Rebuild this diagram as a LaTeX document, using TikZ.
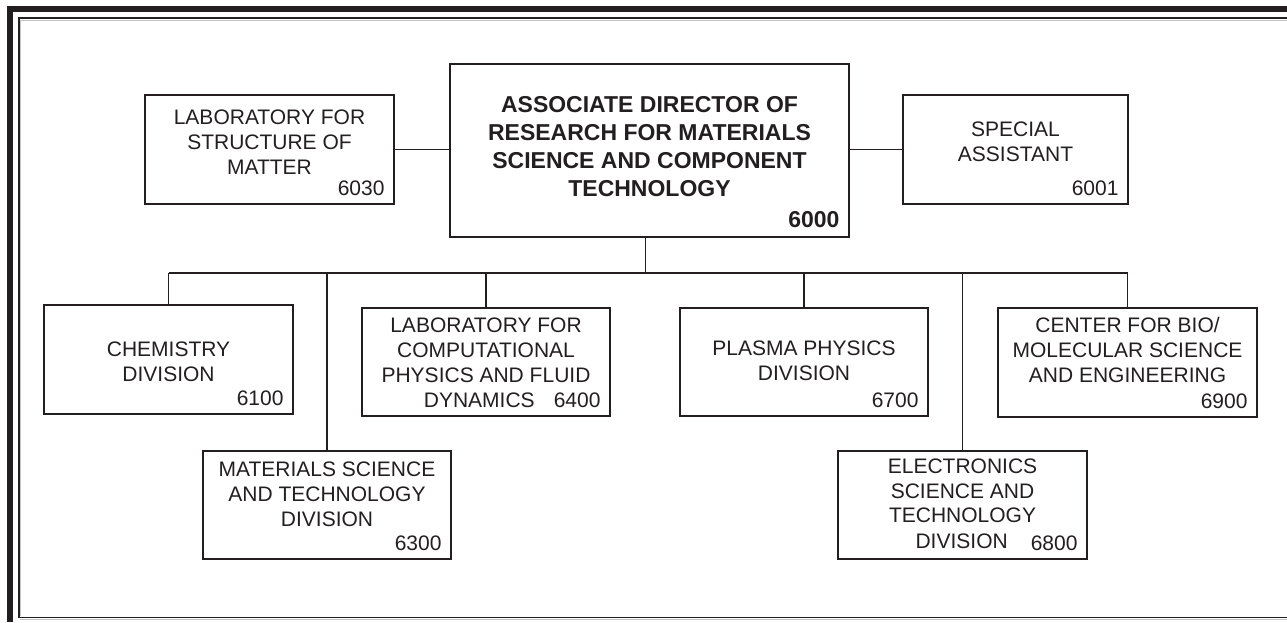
\documentclass[tikz,border=0pt]{standalone}
\usepackage{fontspec}
\setmainfont{Liberation Sans}
\definecolor{ink}{HTML}{231F20}
\begin{document}
\begin{tikzpicture}[x=0.75pt,y=-0.75pt,
  orgbox/.style={draw=ink, line width=1.1pt, inner sep=0pt, fill=white},
  txt/.style={align=center, inner sep=0pt, text=ink, font=\fontsize{15.75}{18.6}\selectfont},
  boldtxt/.style={align=center, inner sep=0pt, text=ink, font=\fontsize{17.25}{21}\selectfont\bfseries},
  num/.style={anchor=south east, inner sep=0pt, text=ink, font=\fontsize{15.75}{18.6}\selectfont, xshift=-7.5pt, yshift=6.75pt},
  bnum/.style={anchor=south east, inner sep=0pt, text=ink, font=\fontsize{17.25}{21}\selectfont\bfseries, xshift=-7.5pt, yshift=7.5pt},
  link/.style={draw=ink, line width=1.1pt}]
\useasboundingbox (0,0) rectangle (1287,622);
% frame
\draw[ink, line width=4.5pt, line join=miter] (10,622) -- (10,9) -- (1287,9);
\draw[gray!45, line width=0.6pt] (1287,20.2) -- (20.7,20.2) -- (20.7,615.5);
\draw[gray!45, line width=0.6pt] (20,619) -- (1287,619);
\draw[ink, line width=1.2pt] (1287,18) -- (19,18) -- (19,617.3) -- (1287,617.3);

% boxes
\node[orgbox, minimum width=186.75pt, minimum height=81.75pt] (lsm) at (269.5,149.5) {};
\node[orgbox, minimum width=299.25pt, minimum height=129.75pt] (main) at (649.5,150.5) {};
\node[orgbox, minimum width=168.75pt, minimum height=81.75pt] (spec) at (1015.5,149.5) {};
\node[orgbox, minimum width=186.75pt, minimum height=81.75pt] (chem) at (168.5,359.5) {};
\node[orgbox, minimum width=186pt, minimum height=81pt] (mst) at (327,505) {};
\node[orgbox, minimum width=186pt, minimum height=81pt] (lcp) at (486,362) {};
\node[orgbox, minimum width=186pt, minimum height=81pt] (plasma) at (804,362) {};
\node[orgbox, minimum width=186.75pt, minimum height=81pt] (elec) at (962.5,505) {};
\node[orgbox, minimum width=194.25pt, minimum height=81.75pt] (center) at (1127.5,362.5) {};

% texts
\node[txt] (lsmt) at (269.5,142) {LABORATORY FOR\\STRUCTURE OF\\MATTER};
\node[num] (lsmn) at (lsm.south east) {6030};
\node[boldtxt] (maint) at (649.5,146.75) {ASSOCIATE DIRECTOR OF\\RESEARCH FOR MATERIALS\\SCIENCE AND COMPONENT\\TECHNOLOGY};
\node[bnum] (mainn) at (main.south east) {6000};
\node[txt] (spect) at (1015.5,142) {SPECIAL\\ASSISTANT};
\node[num] (specn) at (spec.south east) {6001};
\node[txt] (chemt) at (168.5,362) {CHEMISTRY\\DIVISION};
\node[num] (chemn) at (chem.south east) {6100};
\node[txt] (mstt) at (327,494) {MATERIALS SCIENCE\\AND TECHNOLOGY\\DIVISION};
\node[num] (mstn) at (mst.south east) {6300};
\node[txt] (lcpt) at (486,350) {LABORATORY FOR\\COMPUTATIONAL\\PHYSICS AND FLUID};
\node[txt, anchor=base east] (lcpt2) at (535,407) {DYNAMICS};
\node[num] (lcpn) at (lcp.south east) {6400};
\node[txt] (plasmat) at (804,361) {PLASMA PHYSICS\\DIVISION};
\node[num] (plasman) at (plasma.south east) {6700};
\node[txt] (elect) at (962.5,490.8) {ELECTRONICS\\SCIENCE AND\\TECHNOLOGY};
\node[txt, anchor=base east] (elect2) at (1008,548.5) {DIVISION};
\node[num] (elecn) at (elec.south east) {6800};
\node[txt] (centert) at (1127.5,350) {CENTER FOR BIO/\\MOLECULAR SCIENCE\\AND ENGINEERING};
\node[num] (centern) at (center.south east) {6900};

% connectors
\coordinate (bus) at (0,273);
\draw[link] (lsm.east) -- (lsm.east -| main.west);
\draw[link] (main.east |- spec.west) -- (spec.west);
\draw[link] ([xshift=-3pt]main.south) -- ([xshift=-3pt]main.south |- bus);
\draw[link] (chem.north |- bus) -- (center.north |- bus);
\foreach \b in {chem,mst,lcp,plasma,elec,center}
  \draw[link] (\b.north) -- (\b.north |- bus);
\end{tikzpicture}
\end{document}
